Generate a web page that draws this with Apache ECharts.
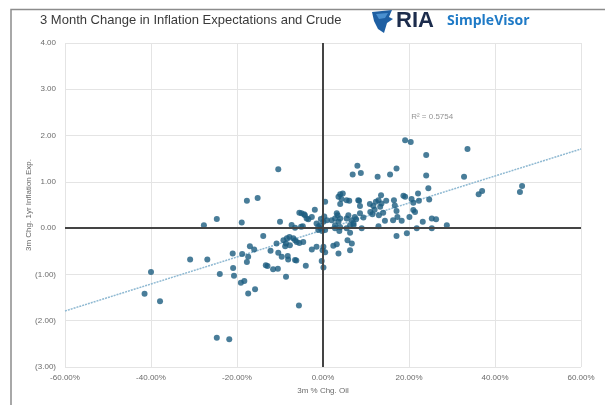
<!DOCTYPE html>
<html>
<head>
<meta charset="utf-8">
<script src="https://cdn.jsdelivr.net/npm/echarts@6/dist/echarts.min.js"></script>
<style>
  html, body { margin: 0; padding: 0; background: #fff; }
  #chart { width: 605px; height: 405px; }
</style>
</head>
<body>
<div id="chart"></div>
<script>
/* 3 Month Change in Inflation Expectations and Crude */
"use strict";

// x = 3m % chg oil, y = 3m chg 1yr inflation exp
var points = [
	[-41.5, -1.42], [-40.0, -0.95], [-37.9, -1.58], [-30.9, -0.68], [-26.9, -0.68],
	[-27.7, 0.06], [-24.7, 0.20], [-24.0, -0.99], [-24.7, -2.37], [-21.8, -2.40],
	[-21.0, -0.55], [-20.9, -0.86], [-20.7, -1.03], [-19.1, -1.18], [-18.3, -1.14],
	[-18.8, -0.56], [-18.9, 0.12], [-17.7, 0.59], [-15.2, 0.65], [-17.4, -0.62],
	[-17.7, -0.73], [-17.4, -1.41], [-15.8, -1.32], [-17.0, -0.39], [-16.0, -0.46],
	[-13.9, -0.17], [-13.3, -0.80], [-12.9, -0.82], [-12.2, -0.49], [-11.6, -0.89],
	[-10.5, -0.88], [-10.8, -0.33], [-10.4, -0.53], [-9.6, -0.62], [-10.4, 1.27],
	[-10.0, 0.14], [-9.2, -0.26], [-8.4, -0.22], [-7.8, -0.19], [-8.6, -1.05],
	[-8.2, -0.60], [-8.1, -0.68], [-8.8, -0.39], [-7.7, -0.37], [-8.6, -0.33],
	[-6.9, -0.22], [-6.5, -0.26], [-6.1, -0.30], [-5.5, -0.32], [-4.6, -0.30],
	[-6.5, -0.69], [-6.2, -0.70], [-4.0, -0.81], [-5.6, -1.67], [-2.6, -0.46],
	[-1.5, -0.40], [-0.3, -0.71], [0.1, -0.85], [-0.1, -0.48], [0.1, -0.40],
	[-7.3, 0.07], [-6.5, 0.01], [-4.7, 0.04], [-5.1, 0.03], [-5.5, 0.33],
	[-5.0, 0.32], [-4.4, 0.30], [-4.2, 0.28], [-3.8, 0.21], [-3.4, 0.19],
	[-2.6, 0.24], [-1.9, 0.40], [-1.5, 0.10], [-0.7, 0.06], [0.1, 0.14],
	[0.9, 0.17], [-1.1, -0.04], [0.5, -0.04], [-1.1, 0.03], [-0.5, -0.01],
	[-0.2, -0.06], [-0.5, 0.20], [0.3, 0.25], [0.5, 0.57], [2.0, 0.17],
	[2.8, 0.21], [3.2, 0.32], [3.4, 0.28], [3.6, 0.14], [4.0, 0.21],
	[2.8, 0.06], [2.8, 0.00], [4.0, 0.02], [5.5, 0.00], [4.0, 0.73],
	[4.6, 0.75], [3.6, 0.68], [4.3, 0.63], [5.5, 0.60], [6.1, 0.59],
	[4.0, 0.52], [5.5, 0.21], [5.9, 0.28], [6.7, 0.17], [6.3, 0.06],
	[7.1, 0.10], [2.4, -0.38], [3.2, -0.35], [3.6, -0.55], [0.5, -0.52],
	[5.7, -0.26], [6.7, -0.33], [6.3, -0.48], [3.8, -0.06], [6.3, -0.10],
	[8.0, 1.35], [6.9, 1.16], [8.8, 1.19], [12.7, 1.11], [15.6, 1.16],
	[17.1, 1.29], [19.1, 1.90], [20.4, 1.86], [24.0, 1.58], [33.6, 1.71],
	[24.0, 1.14], [32.8, 1.11], [24.5, 0.86], [22.1, 0.75], [19.1, 0.68],
	[24.7, 0.62], [22.3, 0.59], [21.0, 0.55], [13.5, 0.71], [8.2, 0.60],
	[8.6, 0.48], [8.4, 0.59], [10.9, 0.52], [11.7, 0.48], [12.3, 0.57],
	[12.9, 0.60], [13.3, 0.46], [13.6, 0.53], [14.7, 0.59], [16.5, 0.60],
	[16.7, 0.49], [17.1, 0.37], [17.3, 0.24], [18.3, 0.16], [20.1, 0.24],
	[21.4, 0.35], [23.2, 0.14], [25.3, 0.21], [26.3, 0.19], [28.8, 0.06],
	[21.8, 0.00], [25.3, 0.00], [17.1, -0.17], [19.5, -0.11], [36.2, 0.73],
	[37.0, 0.80], [45.8, 0.78], [46.3, 0.91], [9.4, 0.23], [8.6, 0.32],
	[7.4, 0.24], [7.7, 0.19], [7.1, 0.06], [9.0, 0.00], [12.9, 0.04],
	[14.4, 0.16], [11.0, 0.35], [11.5, 0.30], [12.0, 0.40], [13.0, 0.28],
	[14.0, 0.33], [18.7, 0.70], [20.6, 0.63], [21.0, 0.39], [16.3, 0.17]
];

// linear trend y = slope * x + intercept
var trendSlope = 0.02917;
var trendIntercept = -0.04;
var trendRange = [-60, 60];
var r2Text = 'R² = 0.5754';
var r2Pos = [20.5, 2.40];

var xTicks = { min: -60, max: 60, interval: 20 };
var yTicks = { min: -3, max: 4, interval: 1 };

var trendData = trendRange.map(function (x) {
	return [x, trendSlope * x + trendIntercept];
});

var fmtY = function (v) {
	return v < 0 ? '(' + Math.abs(v).toFixed(2) + ')' : v.toFixed(2);
};
var fmtX = function (v) {
	return v.toFixed(2) + '%';
};

var labelStyle = {
	color: '#6b6b6b',
	fontFamily: "'Liberation Sans', Arial, sans-serif",
	fontSize: 8
};

var eChart = echarts.init(document.getElementById('chart'));
var option = {
	animation: false,
	backgroundColor: '#fff',
	grid: {
		left: 65,
		right: 24,
		top: 43,
		bottom: 38
	},
	xAxis: {
		type: 'value',
		min: xTicks.min,
		max: xTicks.max,
		interval: xTicks.interval,
		name: '3m % Chg. Oil',
		nameLocation: 'middle',
		nameGap: 20,
		nameMoveOverlap: false,
		nameTextStyle: labelStyle,
		axisLine: { show: false },
		axisTick: { show: false },
		axisLabel: Object.assign({ formatter: fmtX, margin: 7 }, labelStyle),
		splitLine: { show: true, lineStyle: { color: '#e4e4e4', width: 1 } }
	},
	yAxis: {
		type: 'value',
		min: yTicks.min,
		max: yTicks.max,
		interval: yTicks.interval,
		name: '3m Chg. 1yr Inflation Exp.',
		nameLocation: 'middle',
		nameGap: 32,
		nameMoveOverlap: false,
		nameTextStyle: labelStyle,
		axisLine: { show: false },
		axisTick: { show: false },
		axisLabel: Object.assign({ formatter: fmtY, margin: 9 }, labelStyle),
		splitLine: { show: true, lineStyle: { color: '#e4e4e4', width: 1 } }
	},
	graphic: [
		{
			type: 'polyline',
			shape: { points: [[11, 405], [11, 9.5], [605, 9.5]] },
			style: { stroke: '#8c8c8c', lineWidth: 1.5, fill: null },
			silent: true
		},
		{
			type: 'text',
			left: 40,
			top: 14,
			style: {
				text: '3 Month Change in Inflation Expectations and Crude',
				fill: '#3a3a3a',
				font: "13px 'Liberation Sans', Arial, sans-serif"
			}
		},
		// eagle badge
		{
			type: 'polygon',
			shape: { points: [[372, 12], [392, 10], [389, 17], [393, 19], [387, 23], [384, 33], [378, 29], [374, 21]] },
			style: { fill: '#1e5fa3' }
		},
		{
			type: 'polygon',
			shape: { points: [[376, 14], [388, 13], [385, 18], [379, 19]] },
			style: { fill: '#4a90d0' }
		},
		{
			type: 'text',
			left: 396,
			top: 10,
			style: {
				text: 'RIA',
				fill: '#1c2c4c',
				font: "bold 22px 'Liberation Sans', Arial, sans-serif"
			}
		},
		{
			type: 'text',
			left: 447,
			top: 14,
			style: {
				text: 'SimpleVisor',
				fill: '#1f7ac6',
				font: "bold 14px 'Open Sans', 'Liberation Sans', sans-serif"
			}
		}
	],
	series: [
		{
			name: 'Trend',
			type: 'line',
			data: trendData,
			symbol: 'none',
			silent: true,
			lineStyle: { color: '#8fb9d2', width: 1.5, type: [2, 1] },
			z: 3
		},
		{
			name: 'R2',
			type: 'scatter',
			data: [r2Pos],
			symbolSize: 0,
			silent: true,
			label: {
				show: true,
				position: 'right',
				distance: 0,
				formatter: r2Text,
				color: '#777',
				fontFamily: "'Liberation Sans', Arial, sans-serif",
				fontSize: 8
			}
		},
		{
			name: 'Points',
			type: 'scatter',
			data: points,
			symbolSize: 6,
			itemStyle: { color: '#1b5c7f' },
			z: 4,
			markLine: {
				silent: true,
				symbol: 'none',
				label: { show: false },
				lineStyle: { color: '#444', width: 2, type: 'solid' },
				data: [{ xAxis: 0 }, { yAxis: 0 }]
			}
		}
	]
};
eChart.setOption(option);
</script>
</body>
</html>
